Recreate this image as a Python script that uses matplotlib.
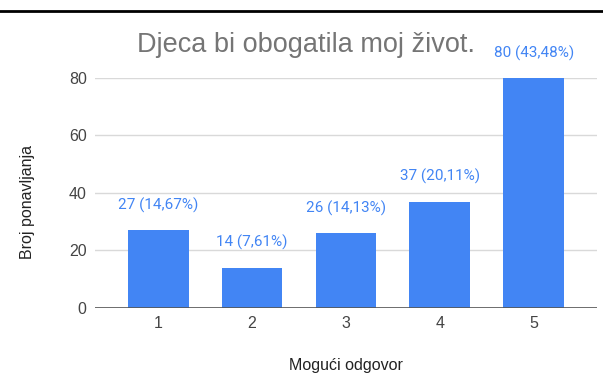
import matplotlib.pyplot as plt
from matplotlib.lines import Line2D

odgovori = ['1', '2', '3', '4', '5']
broj = [27, 14, 26, 37, 80]
postotak = ['14,67%', '7,61%', '14,13%', '20,11%', '43,48%']

plavo = '#4285F4'
sivo = '#444444'

fig = plt.figure(figsize=(6.03, 3.88), dpi=100)
ax = fig.add_axes([0.1575, 0.2062, 0.8325, 0.5928])

x = list(range(len(odgovori)))
ax.bar(x, broj, width=0.647, color=plavo, zorder=3)

# oznake iznad stupaca
for xi, n, p in zip(x, broj, postotak):
    ax.annotate(f'{n} ({p})', (xi, n), xytext=(0, 18), textcoords='offset points',
                ha='center', va='center', color=plavo, fontsize=11, family='Roboto',
                annotation_clip=False)

ax.set_xlim(-0.674, 4.674)
ax.set_ylim(0, 80)
ax.set_yticks([0, 20, 40, 60, 80])
ax.set_xticks(x)
ax.set_xticklabels(odgovori)
ax.yaxis.grid(True, color='#d9d9d9', linewidth=1, zorder=0)
ax.axhline(0, color='#555555', linewidth=1.2, zorder=4)
for s in ax.spines.values():
    s.set_visible(False)
ax.tick_params(axis='both', length=0, labelsize=11.5, labelcolor=sivo, pad=6)
for t in ax.get_xticklabels() + ax.get_yticklabels():
    t.set_family('Liberation Sans')

ax.set_xlabel('Mogući odgovor', fontsize=11.5, color='#222222', family='Liberation Sans')
ax.set_ylabel('Broj ponavljanja', fontsize=11.5, color='#222222', family='Liberation Sans')
ax.xaxis.set_label_coords(0.5, -0.248)
ax.yaxis.set_label_coords(-0.135, 0.463)
ax.xaxis.label.set_va('center')
ax.yaxis.label.set_va('center')

fig.text(0.507, 0.866, 'Djeca bi obogatila moj život.', ha='center', va='baseline',
         fontsize=19.5, color='#757575', family='Liberation Sans')

# crta na vrhu
fig.add_artist(Line2D([0, 1], [0.972, 0.972], color='black', linewidth=2, transform=fig.transFigure))

fig.savefig('out.png', dpi=100)
